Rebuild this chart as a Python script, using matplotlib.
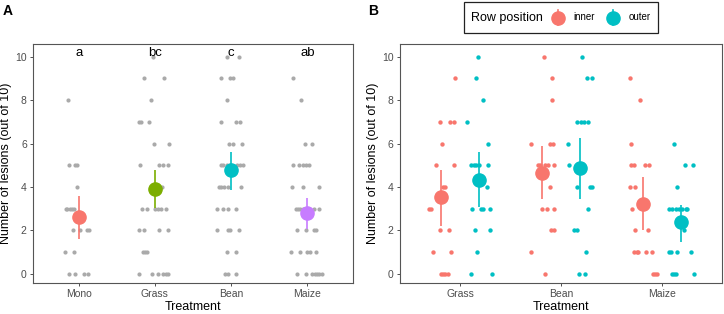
import matplotlib
matplotlib.use("Agg")
import matplotlib.pyplot as plt
from matplotlib.lines import Line2D
from matplotlib.patches import Rectangle

plt.rcParams['font.family'] = ['Liberation Sans', 'DejaVu Sans']

# ---- panel A data ----
treat_a = ["Mono", "Grass", "Bean", "Maize"]
letters_a = ["a", "bc", "c", "ab"]
colors_a = ["#F8766D", "#7CAE00", "#00BFC4", "#C77CFF"]

mono_y = [8, 5, 5, 5, 4, 3, 3, 3, 3, 3, 2, 2, 2, 2, 1, 1, 0, 0, 0, 0]
mono_jit = [-0.14, -0.13, -0.05, -0.02, -0.02, -0.17, -0.15, -0.12, -0.09, -0.06,
            -0.08, 0.02, 0.11, 0.14, -0.18, -0.06, -0.13, -0.05, 0.07, 0.12]
grass_y = [10, 9, 9, 8, 7, 7, 7, 6, 6, 5, 5, 5, 5, 4, 3, 3, 3, 3, 3, 3,
           2, 2, 2, 2, 1, 1, 1, 0, 0, 0, 0, 0, 0]
grass_jit = [-0.02, -0.14, 0.12, -0.05, -0.21, -0.18, -0.08, -0.01, 0.18,
             -0.2, 0.06, 0.1, 0.17, 0.09, -0.17, -0.11, 0.0, 0.04, 0.08, 0.15,
             -0.21, -0.14, 0.06, 0.17, -0.16, -0.13, -0.1,
             -0.21, -0.04, 0.04, 0.11, 0.14, 0.17]
bean_y = [10, 10, 9, 9, 9, 8, 7, 7, 7, 6, 6, 6, 5, 5, 5, 5, 5, 5, 5,
          4, 4, 4, 4, 4, 3, 3, 3, 3, 2, 2, 2, 2, 1, 1, 0, 0, 0]
bean_jit = [-0.05, 0.11, -0.13, -0.01, 0.03, -0.05, -0.13, 0.06, 0.12,
            -0.03, 0.02, 0.14, -0.13, -0.1, -0.06, -0.02, 0.08, 0.12, 0.16,
            -0.16, -0.13, -0.09, -0.04, 0.13, -0.18, -0.11, -0.04, 0.06,
            -0.19, -0.04, -0.01, 0.1, -0.05, 0.06, -0.08, -0.04, 0.06]
maize_y = [9, 8, 6, 6, 5, 5, 5, 5, 5, 4, 4, 4, 3, 3, 3, 3, 3, 3,
           2, 2, 2, 2, 1, 1, 1, 1, 1, 0, 0, 0, 0, 0, 0, 0]
maize_jit = [-0.19, -0.08, -0.03, 0.06, -0.19, -0.11, -0.06, -0.02, 0.02,
             -0.2, -0.06, 0.16, -0.15, -0.12, -0.09, -0.05, 0.09, 0.16,
             -0.13, -0.02, 0.09, 0.12, -0.21, -0.1, 0.0, 0.03, 0.11,
             -0.13, -0.02, 0.06, 0.1, 0.13, 0.16, 0.19]

mean_a = [2.6, 3.9, 4.76, 2.78]
lo_a = [1.61, 3.01, 3.87, 2.06]
hi_a = [3.59, 4.79, 5.62, 3.50]

# ---- panel B data ----
treat_b = ["Grass", "Bean", "Maize"]
rows = ["inner", "outer"]
colors_b = ["#F8766D", "#00BFC4"]

g_in_y = [9, 7, 7, 7, 6, 5, 5, 4, 4, 3, 3, 2, 2, 1, 1, 0, 0, 0, 0]
g_in_jit = [-0.05, -0.20, -0.10, -0.06, -0.18, -0.24, -0.06, -0.17, -0.15,
            -0.31, -0.29, -0.20, -0.11, -0.27, -0.09, -0.19, -0.17, -0.15, -0.12]
g_out_y = [10, 9, 8, 7, 6, 5, 5, 5, 5, 5, 4, 3, 3, 3, 3, 2, 2, 1, 0, 0]
g_out_jit = [0.18, 0.16, 0.22, 0.07, 0.27, 0.11, 0.14, 0.16, 0.19, 0.27, 0.26,
             0.12, 0.20, 0.22, 0.29, 0.15, 0.29, 0.17, 0.11, 0.31]
b_in_y = [10, 9, 8, 6, 6, 6, 5, 5, 5, 5, 5, 4, 3, 3, 3, 2, 2, 1, 0]
b_in_jit = [-0.17, -0.09, -0.09, -0.30, -0.11, -0.08, -0.23, -0.21, -0.16,
            -0.13, -0.07, -0.11, -0.19, -0.14, -0.07, -0.10, -0.07, -0.30, -0.16]
b_out_y = [10, 9, 9, 7, 7, 7, 7, 6, 5, 4, 4, 4, 3, 2, 2, 1, 0, 0]
b_out_jit = [0.21, 0.26, 0.31, 0.16, 0.20, 0.23, 0.27, 0.07, 0.08, 0.16, 0.29,
             0.31, 0.27, 0.13, 0.16, 0.25, 0.18, 0.24]
m_in_y = [9, 8, 6, 5, 5, 5, 5, 4, 4, 3, 2, 2, 1, 1, 1, 1, 1, 0, 0, 0]
m_in_jit = [-0.31, -0.21, -0.30, -0.30, -0.27, -0.17, -0.13, -0.31, -0.26,
            -0.29, -0.26, -0.14, -0.27, -0.24, -0.23, -0.16, -0.10, -0.09, -0.07, -0.05]
m_out_y = [6, 5, 5, 4, 3, 3, 3, 3, 3, 3, 3, 2, 1, 1, 1, 1, 0, 0, 0, 0]
m_out_jit = [0.12, 0.23, 0.31, 0.15, 0.07, 0.10, 0.14, 0.17, 0.20, 0.24, 0.25,
             0.22, 0.07, 0.09, 0.15, 0.29, 0.10, 0.12, 0.14, 0.32]

mean_b = {"inner": [3.52, 4.64, 3.21], "outer": [4.30, 4.85, 2.37]}
lo_b = {"inner": [2.21, 3.46, 2.00], "outer": [3.07, 3.46, 1.49]}
hi_b = {"inner": [4.79, 5.87, 4.44], "outer": [5.59, 6.25, 3.18]}
dodge = {"inner": -0.19, "outer": 0.19}

pts_a = [(mono_y, mono_jit), (grass_y, grass_jit), (bean_y, bean_jit), (maize_y, maize_jit)]
pts_b = {"inner": [(g_in_y, g_in_jit), (b_in_y, b_in_jit), (m_in_y, m_in_jit)],
         "outer": [(g_out_y, g_out_jit), (b_out_y, b_out_jit), (m_out_y, m_out_jit)]}

fig = plt.figure(figsize=(7.24, 3.14), dpi=100)
axA = fig.add_axes([33 / 724, 31 / 314, 320 / 724, 239 / 314])
axB = fig.add_axes([400 / 724, 31 / 314, 322 / 724, 239 / 314])


def style(ax, labels):
    for s in ax.spines.values():
        s.set_color("#555555")
        s.set_linewidth(0.8)
    ax.set_ylim(-0.42, 10.58)
    ax.set_xlim(0.4, len(labels) + 0.6)
    ax.set_xticks(range(1, len(labels) + 1))
    ax.set_xticklabels(labels)
    ax.set_yticks([0, 2, 4, 6, 8, 10])
    ax.tick_params(colors="#333333", labelcolor="#4D4D4D", labelsize=7.5,
                   length=2.5, width=0.6, pad=2)
    ax.set_xlabel("Treatment", fontsize=9, labelpad=1.5)
    ax.set_ylabel("Number of lesions (out of 10)", fontsize=9, labelpad=2)


# panel A
for i, (ys, jit) in enumerate(pts_a):
    axA.scatter([i + 1 + j for j in jit], ys, s=9, color="#AAAAAA",
                linewidths=0, zorder=2)
for i in range(len(treat_a)):
    axA.errorbar(i + 1, mean_a[i],
                 yerr=[[mean_a[i] - lo_a[i]], [hi_a[i] - mean_a[i]]],
                 fmt="o", color=colors_a[i], ms=9.5, elinewidth=1.2,
                 capsize=0, zorder=3)
    axA.text(i + 1, 10.05, letters_a[i], ha="center", va="baseline", fontsize=9.5)
style(axA, treat_a)

# panel B
for r, col in zip(rows, colors_b):
    for i, (ys, jit) in enumerate(pts_b[r]):
        axB.scatter([i + 1 + j for j in jit], ys, s=10, color=col,
                    linewidths=0, zorder=2)
    for i in range(len(treat_b)):
        m = mean_b[r][i]
        axB.errorbar(i + 1 + dodge[r], m,
                     yerr=[[m - lo_b[r][i]], [hi_b[r][i] - m]],
                     fmt="o", color=col, ms=9.5, elinewidth=1.2,
                     capsize=0, zorder=3)
style(axB, treat_b)

# panel tags
fig.text(3 / 724, 1 - 4 / 314, "A", fontsize=10, fontweight="bold", va="top")
fig.text(368 / 724, 1 - 4 / 314, "B", fontsize=10, fontweight="bold", va="top")

# legend (ggplot style, title to the left)
fig.add_artist(Rectangle((464 / 724, 1 - 33 / 314), 194 / 724, 31 / 314,
                         transform=fig.transFigure, fill=False,
                         edgecolor="#222222", linewidth=0.9))
fig.text(471 / 724, 1 - 17.5 / 314, "Row position", fontsize=9, va="center")
key_x = [557.5, 612.5]
for kx, r, col in zip(key_x, rows, colors_b):
    fig.add_artist(Line2D([kx / 724, kx / 724], [1 - 10 / 314, 1 - 25 / 314],
                          transform=fig.transFigure, color=col, lw=1.2))
    fig.add_artist(Line2D([kx / 724], [1 - 17.5 / 314], transform=fig.transFigure,
                          marker="o", ms=9.5, color=col, lw=0))
    fig.text((kx + 16) / 724, 1 - 17.5 / 314, r, fontsize=7, va="center")

fig.savefig("out.png", dpi=100)
